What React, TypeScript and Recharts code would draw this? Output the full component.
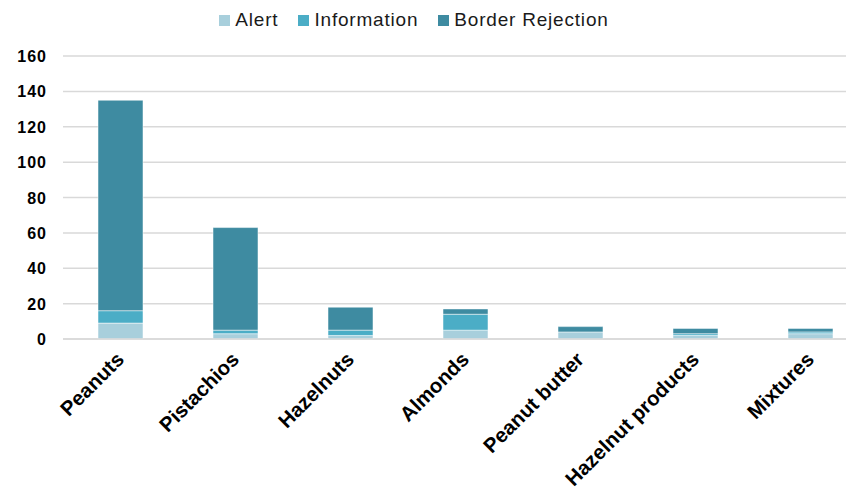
import { BarChart, Bar, XAxis, YAxis, CartesianGrid, Legend } from 'recharts';

const categories = [
  'Peanuts',
  'Pistachios',
  'Hazelnuts',
  'Almonds',
  'Peanut butter',
  'Hazelnut products',
  'Mixtures',
];
const alert = [9, 3, 2, 5, 4, 2, 3];
const information = [7, 2, 3, 9, 0, 1, 1];
const borderRejection = [119, 58, 13, 3, 3, 3, 2];
const yTicks = [0, 20, 40, 60, 80, 100, 120, 140, 160];
const seriesOrder = ['Alert', 'Information', 'Border Rejection'];

const data = categories.map((name, i) => ({
  name,
  alert: alert[i],
  information: information[i],
  borderRejection: borderRejection[i],
}));

const FONT = "'Liberation Sans', Arial, sans-serif";

function CategoryTick({ x, y, payload }: any) {
  return (
    <g transform={`translate(${x - 6},${y + 3}) rotate(-45)`}>
      <text
        x={0}
        y={0}
        textAnchor="end"
        dominantBaseline="hanging"
        fill="#000"
        fontSize={20.5}
        fontWeight={700}
        fontFamily={FONT}
      >
        {payload.value}
      </text>
    </g>
  );
}

function YTick({ x, y, payload }: any) {
  return (
    <text
      x={x}
      y={y}
      dy={6}
      textAnchor="end"
      fill="#000"
      fontSize={16}
      fontWeight={700}
      letterSpacing={1}
      fontFamily={FONT}
    >
      {payload.value}
    </text>
  );
}

function LegendContent({ payload }: any) {
  const items = [...(payload || [])].sort(
    (a: any, b: any) => seriesOrder.indexOf(a.value) - seriesOrder.indexOf(b.value),
  );
  return (
    <div
      style={{
        display: 'flex',
        justifyContent: 'center',
        fontFamily: FONT,
        fontSize: 19,
        letterSpacing: 0.8,
      }}
    >
      {items.map((entry: any) => (
        <div key={entry.value} style={{ display: 'flex', alignItems: 'center', marginRight: 20 }}>
          <span
            style={{
              width: 11,
              height: 11,
              background: entry.color,
              marginRight: 5,
              display: 'inline-block',
            }}
          />
          <span style={{ color: '#1a1a1a' }}>{entry.value}</span>
        </div>
      ))}
    </div>
  );
}

export default function App() {
  return (
    <div
      style={{
        position: 'absolute',
        left: 0,
        top: 0,
        width: 846,
        height: 493,
        overflow: 'hidden',
        background: '#fff',
      }}
    >
      <BarChart
        width={880}
        height={493}
        data={data}
        margin={{ top: 16, right: 12, left: 0, bottom: 14 }}
        barSize={45}
      >
        <CartesianGrid vertical={false} stroke="#d9d9d9" strokeWidth={1.5} />
        <XAxis
          dataKey="name"
          interval={0}
          height={140}
          tickLine={false}
          axisLine={{ stroke: '#d9d9d9', strokeWidth: 1.5 }}
          tick={<CategoryTick />}
        />
        <YAxis
          width={63}
          domain={[0, 160]}
          ticks={yTicks}
          axisLine={false}
          tickLine={false}
          tickMargin={10}
          tick={<YTick />}
        />
        <Legend
          verticalAlign="top"
          height={40}
          wrapperStyle={{ top: 9, left: 0, width: 848 }}
          content={<LegendContent />}
        />
        <Bar dataKey="alert" name="Alert" stackId="a" fill="#a8cfdc" stroke="#ffffff" strokeOpacity={0.5} isAnimationActive={false} />
        <Bar dataKey="information" name="Information" stackId="a" fill="#4badc6" stroke="#ffffff" strokeOpacity={0.5} isAnimationActive={false} />
        <Bar dataKey="borderRejection" name="Border Rejection" stackId="a" fill="#3e8ba1" stroke="#ffffff" strokeOpacity={0.5} isAnimationActive={false} />
      </BarChart>
    </div>
  );
}
